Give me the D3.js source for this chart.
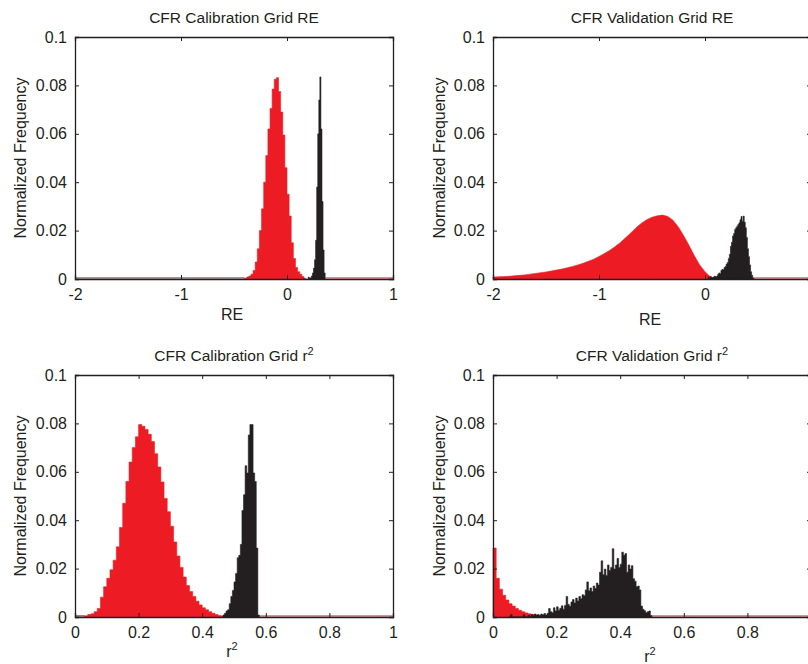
<!DOCTYPE html>
<html>
<head>
<meta charset="utf-8">
<script src="https://cdn.jsdelivr.net/npm/d3@7"></script>
<style>
  body { margin: 0; background: #fff; }
  svg { display: block; }
  text { font-family: "Liberation Sans", Arial, sans-serif; fill: #231f20; }
</style>
</head>
<body>
<div id="chart"></div>
<script>
var svgWidth = 808;
var svgHeight = 664;

// bin layout: first bin left edge and bin width, then the values
// CFR calibration grid RE
var calRERedStart = -0.40, calRERedWidth = 0.02;
var calRERed = [0.0003, 0.0008, 0.0012, 0.002, 0.0035, 0.007, 0.0125, 0.020, 0.029, 0.040,
  0.051, 0.062, 0.0705, 0.0785, 0.0825, 0.0832, 0.0775, 0.069, 0.0595, 0.046,
  0.035, 0.026, 0.015, 0.0085, 0.0048, 0.003, 0.002, 0.001, 0.0003];
var calREBlackStart = 0.20, calREBlackWidth = 0.01;
var calREBlack = [0.0008, 0.0003, 0.0005, 0.0012, 0.0025, 0.0045, 0.008, 0.016, 0.038, 0.060,
  0.074, 0.0835, 0.062, 0.032, 0.012, 0.0025];

// CFR validation grid RE (red read as a smooth curve every 0.05)
var valRERedStart = -2.0, valRERedStep = 0.05;
var valRERed = [0.0008, 0.0009, 0.0010, 0.0011, 0.0013, 0.0015, 0.0017, 0.0020, 0.0023, 0.0026,
  0.0029, 0.0033, 0.0037, 0.0041, 0.0046, 0.0052, 0.0058, 0.0065, 0.0073, 0.0082,
  0.0093, 0.0105, 0.0118, 0.0133, 0.0150, 0.0170, 0.0190, 0.0212, 0.0230, 0.0245,
  0.0255, 0.0261, 0.0264, 0.0258, 0.0242, 0.0214, 0.0178, 0.0138, 0.0096, 0.0058,
  0.0030, 0.0009, 0.0002];
var valREBlackStart = 0.03, valREBlackWidth = 0.01;
var valREBlack = [0.0008, 0.0003, 0.0010, 0.0004, 0.0006, 0.0009, 0.0012, 0.0008, 0.0012, 0.0020,
  0.0025, 0.0022, 0.0035, 0.0040, 0.0038, 0.0048, 0.0052, 0.0062, 0.0068, 0.0085,
  0.0102, 0.0135, 0.0152, 0.0178, 0.0188, 0.0205, 0.0212, 0.0218, 0.0225, 0.0232,
  0.0245, 0.0258, 0.0238, 0.0260, 0.0235, 0.0212, 0.0172, 0.0125, 0.0092, 0.0058,
  0.0030, 0.0015, 0.0005];

// CFR calibration grid r2
var calR2RedStart = 0.03, calR2RedWidth = 0.01;
var calR2Red = [0.0005, 0.001, 0.0013, 0.0022, 0.0035, 0.0082, 0.0125, 0.016, 0.0195, 0.0235,
  0.029, 0.037, 0.047, 0.056, 0.064, 0.070, 0.0745, 0.0795, 0.0788, 0.0775,
  0.0755, 0.0725, 0.0675, 0.062, 0.0558, 0.049, 0.0435, 0.0375, 0.031, 0.0252,
  0.0205, 0.0165, 0.013, 0.0105, 0.0085, 0.0065, 0.005, 0.0038, 0.003, 0.0022,
  0.0015, 0.001, 0.0006, 0.0003];
var calR2BlackStart = 0.465, calR2BlackWidth = 0.005;
var calR2Black = [0.0008, 0.0015, 0.0025, 0.003, 0.0055, 0.0085, 0.011, 0.0145, 0.018, 0.0245,
  0.0255, 0.030, 0.044, 0.0505, 0.0625, 0.0595, 0.0752, 0.0795, 0.0795, 0.0595,
  0.056, 0.0285, 0.0008];

// CFR validation grid r2
var valR2RedStart = 0.0, valR2RedWidth = 0.01;
var valR2Red = [0.0285, 0.016, 0.0115, 0.009, 0.007, 0.0055, 0.0045, 0.0035, 0.0028, 0.0022,
  0.0017, 0.0013, 0.001, 0.0008, 0.0006, 0.0004, 0.0003];
var valR2BlackStart = 0.05, valR2BlackWidth = 0.005;
var valR2Black = [0, 0.001, 0, 0, 0, 0, 0, 0, 0, 0.0009, 0, 0, 0.0007, 0,
  0.001, 0.0005, 0.0012, 0.0008, 0.001, 0.0006, 0.0012, 0.0009, 0.0014, 0.0008,
  0.0015, 0.0035, 0.0022, 0.0018, 0.0038, 0.0025, 0.0042, 0.0028, 0.0036, 0.0046,
  0.0032, 0.0048, 0.0085, 0.0052, 0.0044, 0.0062, 0.0072, 0.0058, 0.0078, 0.0066,
  0.0085, 0.0075, 0.0092, 0.0088, 0.0112, 0.0145, 0.0108, 0.012, 0.0105, 0.0128,
  0.0118, 0.014, 0.0132, 0.0185, 0.0232, 0.0175, 0.0198, 0.0172, 0.0215, 0.0192,
  0.0205, 0.0282, 0.0198, 0.0215, 0.0242, 0.0205, 0.0218, 0.0268, 0.0255, 0.0262,
  0.0185, 0.0215, 0.0198, 0.0212, 0.0158, 0.0148, 0.0125, 0.0128, 0.0112, 0.0045,
  0.0032, 0.0026, 0.0018, 0.0022, 0.0025, 0.0006];

// tick labels
var reTicks = [-2, -1, 0, 1];
var r2Ticks = [0, 0.2, 0.4, 0.6, 0.8, 1];
var yTicks = [0, 0.02, 0.04, 0.06, 0.08, 0.1];

var redColor = "#ed1c24";
var blackColor = "#231f20";

var panels = [
  { left: 75, top: 37, title: "CFR Calibration Grid RE", sup: false, xlabel: "RE", xlabelY: 320,
    domain: [-2, 1], ticks: reTicks, yLabelX: 26, cutRight: false,
    red: { start: calRERedStart, width: calRERedWidth, values: calRERed },
    black: { start: calREBlackStart, width: calREBlackWidth, values: calREBlack } },
  { left: 493, top: 37, title: "CFR Validation Grid RE", sup: false, xlabel: "RE", xlabelY: 325,
    domain: [-2, 1], ticks: reTicks, yLabelX: 445, cutRight: true,
    red: { start: valRERedStart, step: valRERedStep, values: valRERed, smooth: true },
    black: { start: valREBlackStart, width: valREBlackWidth, values: valREBlack } },
  { left: 75, top: 375, title: "CFR Calibration Grid r", sup: true, xlabel: "r", xlabelY: 657,
    domain: [0, 1], ticks: r2Ticks, yLabelX: 26, cutRight: false,
    red: { start: calR2RedStart, width: calR2RedWidth, values: calR2Red },
    black: { start: calR2BlackStart, width: calR2BlackWidth, values: calR2Black } },
  { left: 493, top: 375, title: "CFR Validation Grid r", sup: true, xlabel: "r", xlabelY: 662,
    domain: [0, 1], ticks: r2Ticks, yLabelX: 445, cutRight: true,
    red: { start: valR2RedStart, width: valR2RedWidth, values: valR2Red },
    black: { start: valR2BlackStart, width: valR2BlackWidth, values: valR2Black } }
];

var plotWidth = 318;
var plotHeight = 242;

var svg = d3.select("#chart").append("svg")
  .attr("width", svgWidth)
  .attr("height", svgHeight);

// plain hyphen minus like the original figure
function fmt(d) {
  return String(+d.toFixed(2));
}

// turn a series into points for the area generator
function histPoints(s) {
  if (s.smooth) {
    return s.values.map((v, i) => [s.start + i * s.step, v]);
  }
  var pts = s.values.map((v, i) => [s.start + i * s.width, v]);
  pts.push([s.start + s.values.length * s.width, 0]);
  return pts;
}

function seriesEnd(s) {
  return s.smooth ? s.start + (s.values.length - 1) * s.step : s.start + s.values.length * s.width;
}

panels.forEach(function(p) {
  var g = svg.append("g")
    .attr("transform", `translate(${p.left}, ${p.top})`);

  var x = d3.scaleLinear().domain(p.domain).range([0, plotWidth]);
  var y = d3.scaleLinear().domain([0, 0.1]).range([plotHeight, 0]);

  var area = d3.area()
    .x(d => x(d[0]))
    .y0(y(0))
    .y1(d => y(d[1]));

  // red histogram
  g.append("path")
    .datum(histPoints(p.red))
    .attr("d", area.curve(p.red.smooth ? d3.curveLinear : d3.curveStepAfter))
    .attr("fill", redColor)
    .attr("stroke", redColor)
    .attr("stroke-width", 0.6);

  // black histogram on top
  g.append("path")
    .datum(histPoints(p.black))
    .attr("d", area.curve(d3.curveStepAfter))
    .attr("fill", blackColor)
    .attr("stroke", blackColor)
    .attr("stroke-width", 0.6);

  // zero-height bins along the baseline
  g.append("line")
    .attr("x1", x(seriesEnd(p.black))).attr("x2", x(p.domain[1]))
    .attr("y1", y(0) - 1).attr("y2", y(0) - 1)
    .attr("stroke", "#b0262a").attr("stroke-width", 1.2);
  g.append("line")
    .attr("x1", x(p.domain[0])).attr("x2", x(p.red.start))
    .attr("y1", y(0) - 1).attr("y2", y(0) - 1)
    .attr("stroke", "#5a2a2a").attr("stroke-width", 1.2);

  // box with inward ticks on every side
  var bottomAxis = d3.axisBottom(x).tickValues(p.ticks).tickSize(-4).tickPadding(10)
    .tickFormat(d => (p.cutRight && d === p.domain[1]) ? "" : fmt(d));
  var topAxis = d3.axisTop(x).tickValues(p.ticks).tickSize(-4).tickFormat("");
  var leftAxis = d3.axisLeft(y).tickValues(yTicks).tickSize(-4).tickPadding(8)
    .tickFormat(fmt);
  var rightAxis = d3.axisRight(y).tickValues(yTicks).tickSize(-4).tickFormat("");

  [
    g.append("g").attr("transform", `translate(0, ${plotHeight})`).call(bottomAxis),
    g.append("g").call(topAxis),
    g.append("g").call(leftAxis),
    g.append("g").attr("transform", `translate(${plotWidth}, 0)`).call(rightAxis)
  ].forEach(function(ax) {
    ax.select(".domain").attr("stroke", blackColor).attr("stroke-width", 1.3);
    ax.selectAll(".tick line").attr("stroke", blackColor);
    ax.selectAll(".tick text")
      .attr("fill", blackColor)
      .style("font-size", "16px")
      .style("font-family", "'Liberation Sans', Arial, sans-serif");
  });

  // title
  var title = g.append("text")
    .attr("x", plotWidth / 2)
    .attr("y", -14)
    .attr("text-anchor", "middle")
    .style("font-size", "15.5px")
    .text(p.title);
  if (p.sup) {
    title.append("tspan").attr("dy", -6).style("font-size", "11px").text("2");
  }

  // x label
  var xl = svg.append("text")
    .attr("x", p.left + plotWidth / 2 - 2)
    .attr("y", p.xlabelY)
    .attr("text-anchor", "middle")
    .style("font-size", "16px")
    .text(p.xlabel);
  if (p.sup) {
    xl.append("tspan").attr("dy", -7).style("font-size", "11px").text("2");
  }

  // y label
  svg.append("text")
    .attr("transform", `translate(${p.yLabelX}, ${p.top + plotHeight / 2}) rotate(-90)`)
    .attr("text-anchor", "middle")
    .style("font-size", "16px")
    .text("Normalized Frequency");
});
</script>
</body>
</html>
